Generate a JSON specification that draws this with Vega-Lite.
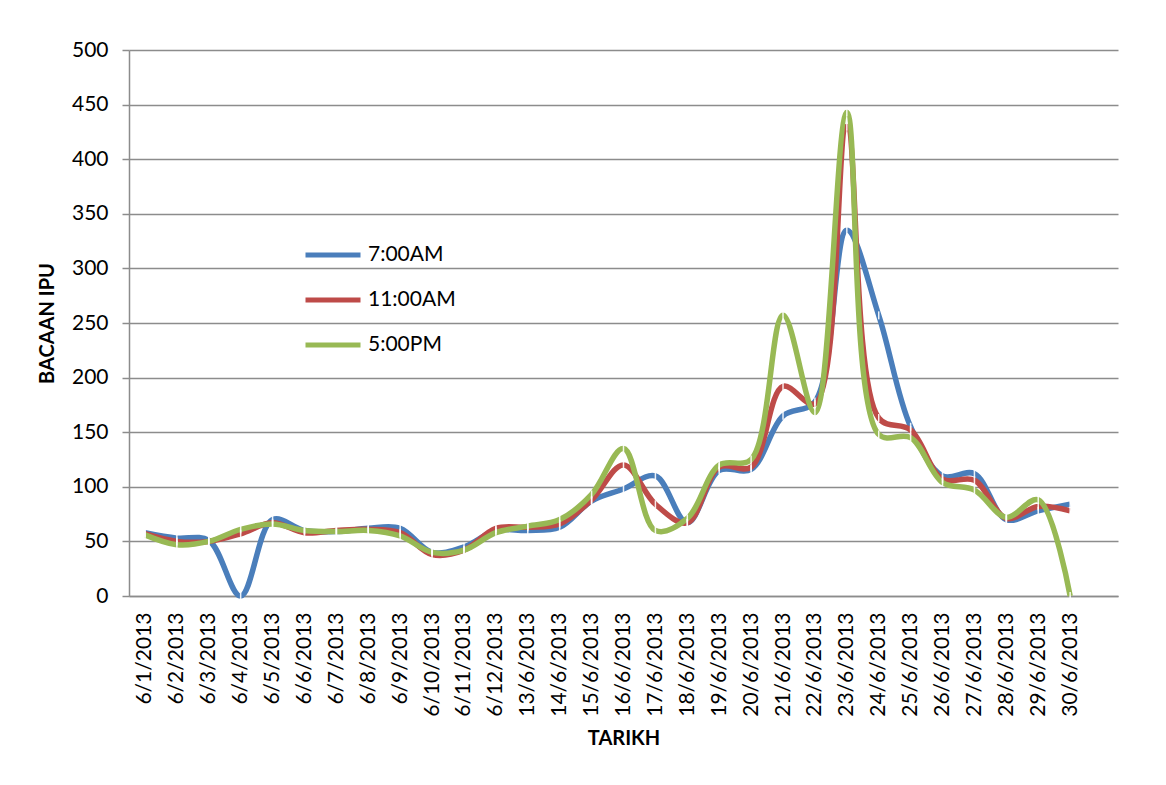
{
  "$schema": "https://vega.github.io/schema/vega-lite/v6.json",
  "autosize": {"type": "none"},
  "padding": {"left": 129, "top": 50, "right": 48, "bottom": 189},
  "width": 989,
  "height": 546,
  "background": "white",
  "config": {
    "view": {"stroke": null},
    "font": "Lato",
    "axis": {"labelFont": "Lato", "titleFont": "Lato", "labelColor": "#000000", "titleColor": "#000000"}
  },
  "data": {
    "values": [
      {"date": "6/1/2013", "series": "7:00AM", "value": 58},
      {"date": "6/2/2013", "series": "7:00AM", "value": 53},
      {"date": "6/3/2013", "series": "7:00AM", "value": 51},
      {"date": "6/4/2013", "series": "7:00AM", "value": 0},
      {"date": "6/5/2013", "series": "7:00AM", "value": 70},
      {"date": "6/6/2013", "series": "7:00AM", "value": 60},
      {"date": "6/7/2013", "series": "7:00AM", "value": 59},
      {"date": "6/8/2013", "series": "7:00AM", "value": 62},
      {"date": "6/9/2013", "series": "7:00AM", "value": 62},
      {"date": "6/10/2013", "series": "7:00AM", "value": 40},
      {"date": "6/11/2013", "series": "7:00AM", "value": 45},
      {"date": "6/12/2013", "series": "7:00AM", "value": 60},
      {"date": "13/6/2013", "series": "7:00AM", "value": 60},
      {"date": "14/6/2013", "series": "7:00AM", "value": 63},
      {"date": "15/6/2013", "series": "7:00AM", "value": 87},
      {"date": "16/6/2013", "series": "7:00AM", "value": 98},
      {"date": "17/6/2013", "series": "7:00AM", "value": 110},
      {"date": "18/6/2013", "series": "7:00AM", "value": 67},
      {"date": "19/6/2013", "series": "7:00AM", "value": 115},
      {"date": "20/6/2013", "series": "7:00AM", "value": 116},
      {"date": "21/6/2013", "series": "7:00AM", "value": 165},
      {"date": "22/6/2013", "series": "7:00AM", "value": 178},
      {"date": "23/6/2013", "series": "7:00AM", "value": 335},
      {"date": "24/6/2013", "series": "7:00AM", "value": 257},
      {"date": "25/6/2013", "series": "7:00AM", "value": 155},
      {"date": "26/6/2013", "series": "7:00AM", "value": 110},
      {"date": "27/6/2013", "series": "7:00AM", "value": 112},
      {"date": "28/6/2013", "series": "7:00AM", "value": 70},
      {"date": "29/6/2013", "series": "7:00AM", "value": 78},
      {"date": "30/6/2013", "series": "7:00AM", "value": 84},
      {"date": "6/1/2013", "series": "11:00AM", "value": 57},
      {"date": "6/2/2013", "series": "11:00AM", "value": 50},
      {"date": "6/3/2013", "series": "11:00AM", "value": 50},
      {"date": "6/4/2013", "series": "11:00AM", "value": 57},
      {"date": "6/5/2013", "series": "11:00AM", "value": 67},
      {"date": "6/6/2013", "series": "11:00AM", "value": 58},
      {"date": "6/7/2013", "series": "11:00AM", "value": 60},
      {"date": "6/8/2013", "series": "11:00AM", "value": 61},
      {"date": "6/9/2013", "series": "11:00AM", "value": 58},
      {"date": "6/10/2013", "series": "11:00AM", "value": 38},
      {"date": "6/11/2013", "series": "11:00AM", "value": 42},
      {"date": "6/12/2013", "series": "11:00AM", "value": 62},
      {"date": "13/6/2013", "series": "11:00AM", "value": 63},
      {"date": "14/6/2013", "series": "11:00AM", "value": 66},
      {"date": "15/6/2013", "series": "11:00AM", "value": 88},
      {"date": "16/6/2013", "series": "11:00AM", "value": 120},
      {"date": "17/6/2013", "series": "11:00AM", "value": 84},
      {"date": "18/6/2013", "series": "11:00AM", "value": 67},
      {"date": "19/6/2013", "series": "11:00AM", "value": 118},
      {"date": "20/6/2013", "series": "11:00AM", "value": 118},
      {"date": "21/6/2013", "series": "11:00AM", "value": 192},
      {"date": "22/6/2013", "series": "11:00AM", "value": 176},
      {"date": "23/6/2013", "series": "11:00AM", "value": 430},
      {"date": "24/6/2013", "series": "11:00AM", "value": 163},
      {"date": "25/6/2013", "series": "11:00AM", "value": 152},
      {"date": "26/6/2013", "series": "11:00AM", "value": 107},
      {"date": "27/6/2013", "series": "11:00AM", "value": 106},
      {"date": "28/6/2013", "series": "11:00AM", "value": 71},
      {"date": "29/6/2013", "series": "11:00AM", "value": 82},
      {"date": "30/6/2013", "series": "11:00AM", "value": 78},
      {"date": "6/1/2013", "series": "5:00PM", "value": 56},
      {"date": "6/2/2013", "series": "5:00PM", "value": 47},
      {"date": "6/3/2013", "series": "5:00PM", "value": 50},
      {"date": "6/4/2013", "series": "5:00PM", "value": 61},
      {"date": "6/5/2013", "series": "5:00PM", "value": 66},
      {"date": "6/6/2013", "series": "5:00PM", "value": 60},
      {"date": "6/7/2013", "series": "5:00PM", "value": 59},
      {"date": "6/8/2013", "series": "5:00PM", "value": 60},
      {"date": "6/9/2013", "series": "5:00PM", "value": 55},
      {"date": "6/10/2013", "series": "5:00PM", "value": 40},
      {"date": "6/11/2013", "series": "5:00PM", "value": 42},
      {"date": "6/12/2013", "series": "5:00PM", "value": 58},
      {"date": "13/6/2013", "series": "5:00PM", "value": 64},
      {"date": "14/6/2013", "series": "5:00PM", "value": 70},
      {"date": "15/6/2013", "series": "5:00PM", "value": 93},
      {"date": "16/6/2013", "series": "5:00PM", "value": 135},
      {"date": "17/6/2013", "series": "5:00PM", "value": 60},
      {"date": "18/6/2013", "series": "5:00PM", "value": 71},
      {"date": "19/6/2013", "series": "5:00PM", "value": 120},
      {"date": "20/6/2013", "series": "5:00PM", "value": 125},
      {"date": "21/6/2013", "series": "5:00PM", "value": 257},
      {"date": "22/6/2013", "series": "5:00PM", "value": 168},
      {"date": "23/6/2013", "series": "5:00PM", "value": 443},
      {"date": "24/6/2013", "series": "5:00PM", "value": 148},
      {"date": "25/6/2013", "series": "5:00PM", "value": 145},
      {"date": "26/6/2013", "series": "5:00PM", "value": 104},
      {"date": "27/6/2013", "series": "5:00PM", "value": 97},
      {"date": "28/6/2013", "series": "5:00PM", "value": 72},
      {"date": "29/6/2013", "series": "5:00PM", "value": 88},
      {"date": "30/6/2013", "series": "5:00PM", "value": 0}
    ]
  },
  "encoding": {
    "x": {
      "field": "date",
      "type": "ordinal",
      "sort": null,
      "scale": {"type": "point", "padding": 1, "align": 0.25},
      "axis": {
        "title": "TARIKH",
        "titleFontSize": 20,
        "titleFontWeight": "bold",
        "titleX": 494.5,
        "titleY": 142,
        "titleBaseline": "middle",
        "titleAlign": "center",
        "labelAngle": -90,
        "labelAlign": "right",
        "labelBaseline": "middle",
        "labelFontSize": 21,
        "labelPadding": 16,
        "ticks": false,
        "tickSize": 0,
        "domainColor": "#8c8c8c",
        "domainWidth": 1.5,
        "grid": false,
        "labelOverlap": false
      }
    },
    "y": {
      "field": "value",
      "type": "quantitative",
      "scale": {"domain": [0, 500], "nice": false, "zero": true},
      "axis": {
        "title": "BACAAN IPU",
        "titleFontSize": 20,
        "titleFontWeight": "bold",
        "titleAngle": -90,
        "titleX": -82,
        "titleY": 273,
        "titleAlign": "center",
        "titleBaseline": "middle",
        "values": [0, 50, 100, 150, 200, 250, 300, 350, 400, 450, 500],
        "labelFontSize": 21,
        "labelPadding": 14,
        "tickSize": 7,
        "tickColor": "#8c8c8c",
        "tickWidth": 1.5,
        "domainColor": "#8c8c8c",
        "domainWidth": 1.5,
        "grid": true,
        "gridColor": "#8c8c8c",
        "gridWidth": 1.5
      }
    }
  },
  "layer": [
    {
      "mark": {"type": "line", "interpolate": "catmull-rom", "strokeWidth": 5.5, "strokeJoin": "round"},
      "encoding": {
        "color": {
          "field": "series",
          "type": "nominal",
          "sort": null,
          "scale": {"domain": ["7:00AM", "11:00AM", "5:00PM"], "range": ["#4a7ebb", "#be4b48", "#98b954"]},
          "legend": {
            "title": null,
            "orient": "none",
            "legendX": 174,
            "legendY": 175,
            "padding": 0,
            "symbolType": "stroke",
            "symbolSize": 3025,
            "symbolStrokeWidth": 5,
            "labelFontSize": 21,
            "labelFont": "Lato",
            "labelColor": "#000000",
            "labelOffset": 5,
            "rowPadding": 5
          }
        }
      }
    },
    {
      "mark": {"type": "tick", "orient": "vertical", "color": "white", "size": 8, "thickness": 1.5, "opacity": 0.9},
      "encoding": {}
    }
  ]
}
